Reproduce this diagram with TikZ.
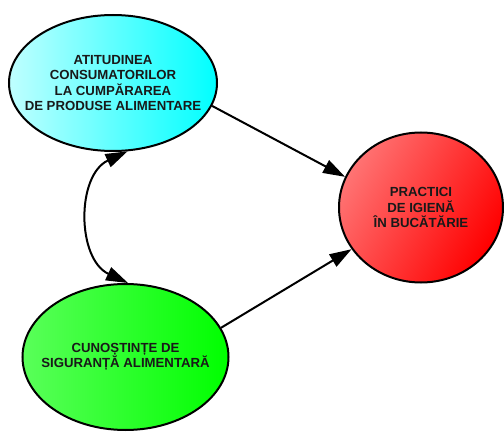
\documentclass[tikz,border=0pt]{standalone}
\usepackage{fontspec}
\setmainfont{Liberation Sans}
\usetikzlibrary{shapes.geometric,arrows.meta}
\begin{document}
\begin{tikzpicture}[x=1pt,y=1pt,
  blob/.style={ellipse,draw=black,line width=2pt,inner sep=0pt},
  txt/.style={align=center,inner sep=0pt,text=black!90,
    font=\fontsize{13.2}{15.5}\selectfont\bfseries},
  tip/.style={Triangle[length=22pt,width=14pt]},
  link/.style={line width=2pt,-{Triangle[length=22pt,width=14pt]}},
  link2/.style={line width=2pt,{Triangle[length=22pt,width=14pt]}-{Triangle[length=22pt,width=14pt]}}]
\useasboundingbox (0,0) rectangle (504,432);
\node[blob,minimum width=208pt,minimum height=136pt,
  left color=cyan!25!white,middle color=cyan!85!white,right color=cyan]
  (c) at (113,349) {};
\node[txt] (ct) at (c) {ATITUDINEA\\CONSUMATORILOR\\LA CUMPĂRAREA\\DE PRODUSE ALIMENTARE};
\node[blob,minimum width=164pt,minimum height=150pt,
  top color=red!55!white,bottom color=red,shading angle=60]
  (r) at (421,224.5) {};
\node[txt] (rt) at (r) {PRACTICI\\DE IGIENĂ\\ÎN BUCĂTĂRIE};
\node[blob,minimum width=206pt,minimum height=146pt,
  left color=green!65!white,middle color=green!95!white,right color=green]
  (g) at (125.5,75) {};
\node[txt] (gt) at (g) {CUNOȘTINȚE DE\\SIGURANȚĂ ALIMENTARĂ};
\draw[link] (c.-13.5) -- (r.158);
\draw[link] (g.17.4) -- (r.211.6);
\draw[link2] (c.-78) to[out=205,in=155,looseness=1.1] (g.88);
\end{tikzpicture}
\end{document}
